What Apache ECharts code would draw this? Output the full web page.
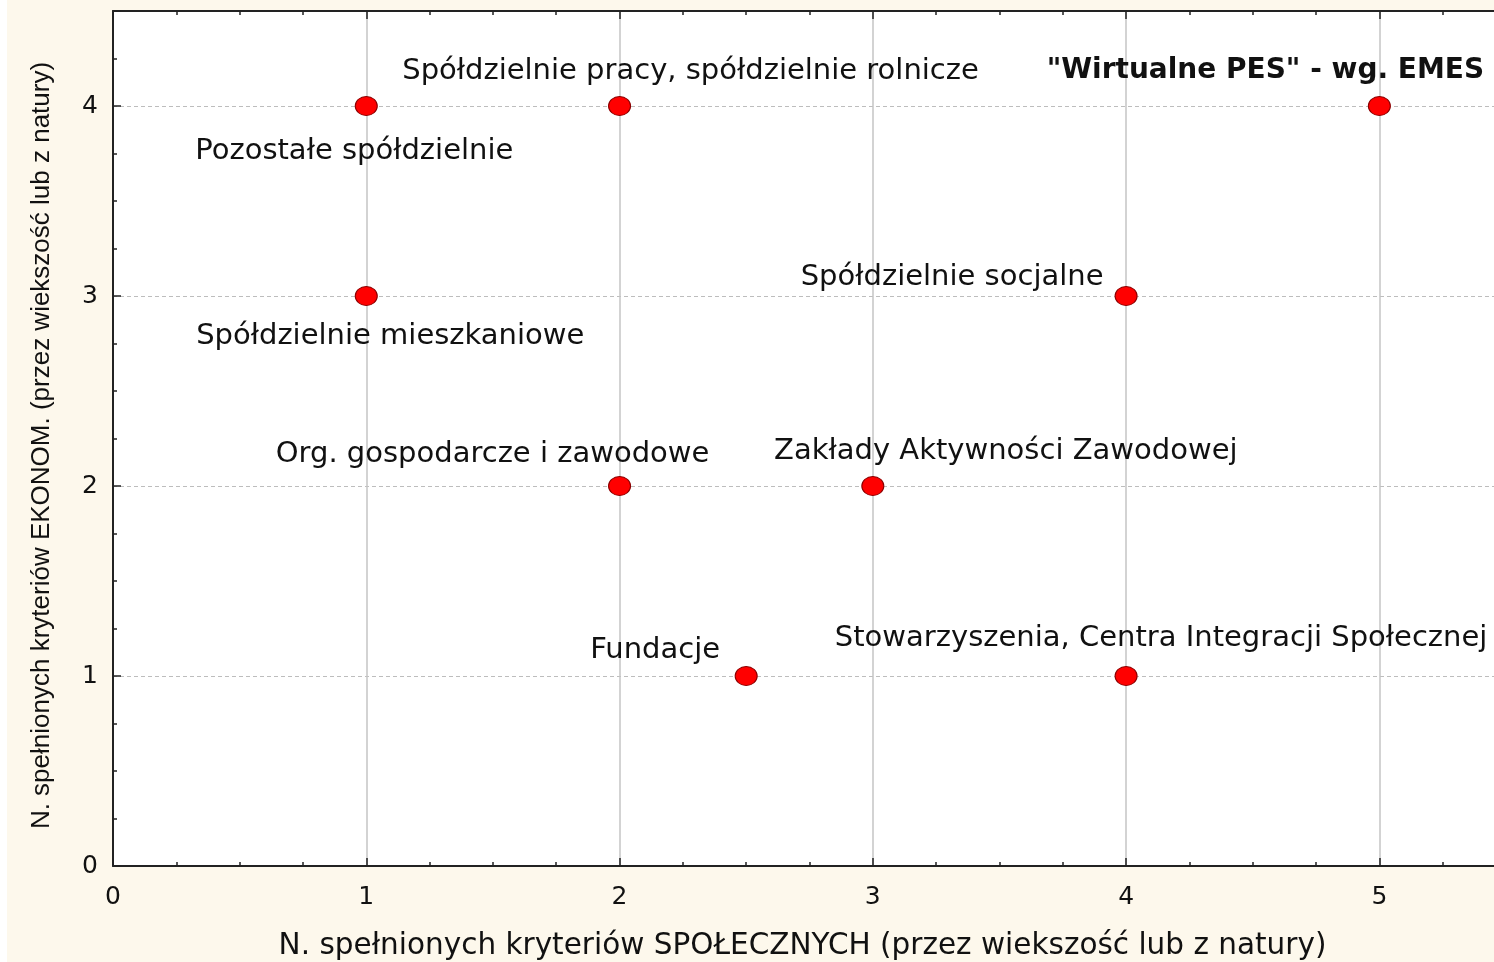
<!DOCTYPE html>
<html>
<head>
<meta charset="utf-8">
<script src="https://cdn.jsdelivr.net/npm/echarts@6/dist/echarts.min.js"></script>
<style>
html,body{margin:0;padding:0;background:#fdf8ec;}
#chart{width:1494px;height:962px;}
</style>
</head>
<body>
<div id="chart"></div>
<script>
// ---- data ----
const names = [
  'Pozostałe spółdzielnie',
  'Spółdzielnie pracy, spółdzielnie rolnicze',
  '"Wirtualne PES" - wg. EMES',
  'Spółdzielnie mieszkaniowe',
  'Spółdzielnie socjalne',
  'Org. gospodarcze i zawodowe',
  'Zakłady Aktywności Zawodowej',
  'Fundacje',
  'Stowarzyszenia, Centra Integracji Społecznej'
];
const socialCriteria = [1, 2, 5, 1, 4, 2, 3, 2.5, 4];
const economicCriteria = [4, 4, 4, 3, 3, 2, 2, 1, 1];
const xTicks = [0, 1, 2, 3, 4, 5];
const yTicks = [0, 1, 2, 3, 4];
const xTitle = 'N. spełnionych kryteriów SPOŁECZNYCH (przez wiekszość lub z natury)';
const yTitle = 'N. spełnionych kryteriów EKONOM. (przez wiekszość lub z natury)';

// ---- layout / style (not data) ----
const labelOffsets = [[-12,45],[71,-35],[-114,-35],[24,40],[-174,-19],[-127,-32],[133,-35],[-91,-26],[35,-38]];
const labelBold = [false,false,true,false,false,false,false,false,false];

const chart = echarts.init(document.getElementById('chart'));
const FONT = 'DejaVu Sans';
const TXT = '#111111';

const seriesData = names.map((n, i) => ({
  name: n,
  value: [socialCriteria[i], economicCriteria[i]],
  label: {
    show: true,
    formatter: n,
    position: 'inside',
    offset: labelOffsets[i],
    color: TXT,
    fontFamily: FONT,
    fontSize: labelBold[i] ? 28 : 29,
    align: 'center',
    verticalAlign: 'middle',
    fontWeight: labelBold[i] ? 'bold' : 'normal'
  }
}));

const minorTick = {show: true, splitNumber: 4, length: 4, lineStyle: {color: '#222', width: 1.5}};

chart.setOption({
  backgroundColor: '#fdf8ec',
  animation: false,
  graphic: [{type: 'rect', shape: {x: 0, y: 0, width: 7, height: 962}, style: {fill: '#ffffff'}, silent: true}],
  grid: {left: 113, top: 11, width: 1393, height: 855, outerBoundsMode: 'none', containLabel: false,
         backgroundColor: '#ffffff', show: true, borderWidth: 0},
  xAxis: [{
    type: 'value', min: 0, max: 5.5, interval: 1, position: 'bottom',
    axisLine: {show: true, onZero: false, lineStyle: {color: '#222', width: 2}},
    axisTick: {show: true, inside: true, length: 8, lineStyle: {color: '#222', width: 1.5}},
    minorTick: minorTick,
    axisLabel: {
      margin: 19, color: TXT, fontFamily: FONT, fontSize: 25,
      formatter: v => xTicks.indexOf(v) >= 0 ? String(v) : ''
    },
    splitLine: {show: true, lineStyle: {color: '#c4c4c4', width: 1.5, type: 'solid'}},
    name: xTitle, nameLocation: 'middle', nameGap: 65,
    nameTextStyle: {fontFamily: FONT, fontSize: 29.5, color: TXT, padding: [0, 14, 0, 0]}
  }, {
    type: 'value', min: 0, max: 5.5, interval: 1, position: 'top',
    axisLine: {show: true, onZero: false, lineStyle: {color: '#222', width: 2}},
    axisTick: {show: true, inside: true, length: 8, lineStyle: {color: '#222', width: 1.5}},
    minorTick: minorTick,
    axisLabel: {show: false},
    splitLine: {show: false}
  }],
  yAxis: {
    type: 'value', min: 0, max: 4.5, interval: 1,
    axisLine: {show: true, onZero: false, lineStyle: {color: '#222', width: 2}},
    axisTick: {show: true, inside: true, length: 8, lineStyle: {color: '#222', width: 1.5}},
    minorTick: minorTick,
    axisLabel: {
      margin: 15, color: TXT, fontFamily: FONT, fontSize: 25,
      formatter: v => yTicks.indexOf(v) >= 0 ? String(v) : ''
    },
    splitLine: {show: true, lineStyle: {color: '#bdbdbd', width: 1, type: [4, 3]}},
    name: yTitle, nameLocation: 'middle', nameGap: 58, nameRotate: 90,
    nameTextStyle: {fontFamily: 'Liberation Sans', fontSize: 26, color: TXT, padding: [0, 14, 0, 0]}
  },
  series: [{
    type: 'scatter',
    xAxisIndex: 0,
    symbol: 'circle',
    symbolSize: [22, 19],
    itemStyle: {color: '#ff0000', borderColor: '#8a0000', borderWidth: 1, opacity: 1},
    emphasis: {disabled: true},
    data: seriesData
  }]
});
</script>
</body>
</html>
